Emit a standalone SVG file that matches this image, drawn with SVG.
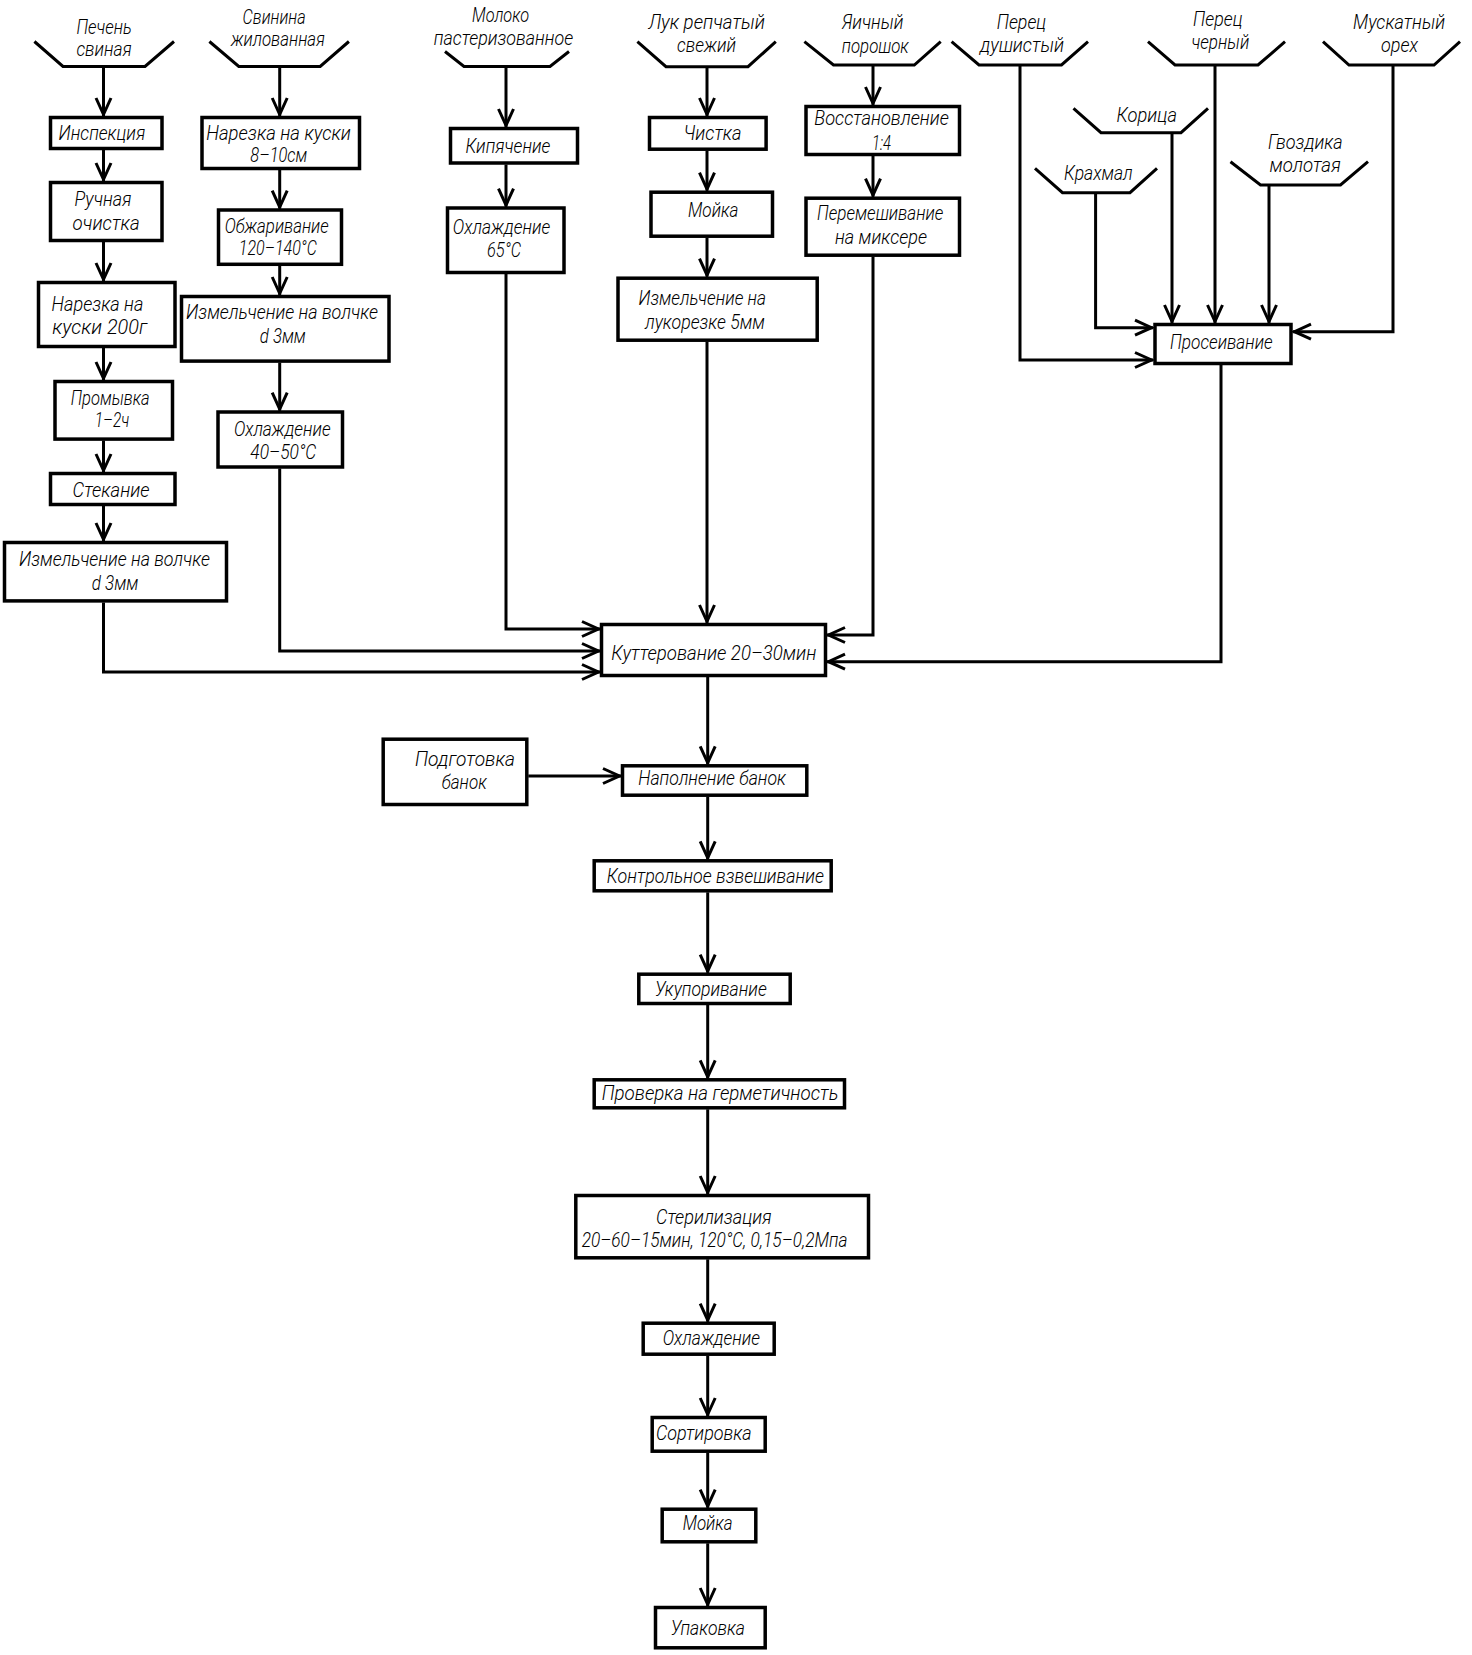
<svg xmlns="http://www.w3.org/2000/svg" width="1472" height="1655" viewBox="0 0 1472 1655">
<defs>
<style>
.b{fill:#fff;stroke:#000;stroke-width:3.5}
.h{fill:none;stroke:#000;stroke-width:3;stroke-linejoin:miter}
.c{fill:none;stroke:#000;stroke-width:3;marker-end:url(#ah)}
.t{font-family:Roboto,"Liberation Sans","DejaVu Sans",sans-serif;font-style:italic;font-weight:300;font-size:21px;fill:#000}
</style>
<marker id="ah" markerUnits="userSpaceOnUse" markerWidth="26" markerHeight="22" viewBox="-22 -11 26 22" refX="0" refY="0" orient="auto" overflow="visible">
<path d="M-18,-7.5 L-1.5,0 L-18,7.5" fill="none" stroke="#000" stroke-width="3"/>
</marker>
</defs>
<rect width="1472" height="1655" fill="#fff"/>
<g id="connectors">
<path class="c" d="M103.5,66.4 V116"/>
<path class="c" d="M103.5,150 V181"/>
<path class="c" d="M103.5,242 V281"/>
<path class="c" d="M103.5,348 V380"/>
<path class="c" d="M103.5,440.6 V472"/>
<path class="c" d="M103.5,506 V541"/>
<path class="c" d="M103.5,602.4 V672 H600"/>
<path class="c" d="M279.7,66.4 V116"/>
<path class="c" d="M279.7,170 V208.6"/>
<path class="c" d="M279.7,265.8 V295"/>
<path class="c" d="M279.7,362.6 V410.7"/>
<path class="c" d="M279.7,468.5 V651 H600"/>
<path class="c" d="M506,66.4 V127"/>
<path class="c" d="M506,164.5 V206.6"/>
<path class="c" d="M506,274 V629 H600"/>
<path class="c" d="M707,66.7 V116"/>
<path class="c" d="M707,150.7 V190.7"/>
<path class="c" d="M707,237.7 V276.7"/>
<path class="c" d="M707,341.7 V623"/>
<path class="c" d="M873,65 V105"/>
<path class="c" d="M873,156 V196.7"/>
<path class="c" d="M873,256.7 V635 H827"/>
<path class="c" d="M1020,65 V360 H1153"/>
<path class="c" d="M1095.6,192.7 V327.7 H1153"/>
<path class="c" d="M1172,132.7 V323"/>
<path class="c" d="M1215,65 V323"/>
<path class="c" d="M1269,185 V323"/>
<path class="c" d="M1393,65 V331.7 H1293"/>
<path class="c" d="M1221,365 V661.7 H827"/>
<path class="c" d="M707.7,677 V764.3"/>
<path class="c" d="M528.3,776 H621"/>
<path class="c" d="M707.7,796.7 V859.3"/>
<path class="c" d="M707.7,892.3 V972.7"/>
<path class="c" d="M707.7,1005 V1078.3"/>
<path class="c" d="M707.7,1109.3 V1194"/>
<path class="c" d="M707.7,1259.3 V1321.7"/>
<path class="c" d="M707.7,1355.7 V1416"/>
<path class="c" d="M707.7,1452.7 V1507.7"/>
<path class="c" d="M707.7,1543.3 V1606"/>
</g>
<g id="src-pechen"><polyline class="h" points="34.4,41.5 63,66.4 145,66.4 174,41.5"/><text class="t" x="76.4" y="33.6" textLength="55.4" lengthAdjust="spacingAndGlyphs">Печень</text><text class="t" x="76.4" y="56" textLength="55.4" lengthAdjust="spacingAndGlyphs">свиная</text></g>
<g id="src-svinina"><polyline class="h" points="209.4,41.5 238.8,66.4 320.2,66.4 348.9,41.5"/><text class="t" x="242.6" y="23.6" textLength="63" lengthAdjust="spacingAndGlyphs">Свинина</text><text class="t" x="231" y="46" textLength="94" lengthAdjust="spacingAndGlyphs">жилованная</text></g>
<g id="src-moloko"><polyline class="h" points="445,51.5 464,66.4 550,66.4 569,51.5"/><text class="t" x="472" y="22" textLength="57" lengthAdjust="spacingAndGlyphs">Молоко</text><text class="t" x="433.7" y="45" textLength="139.5" lengthAdjust="spacingAndGlyphs">пастеризованное</text></g>
<g id="src-luk"><polyline class="h" points="637.4,41.7 666,66.7 748,66.7 775.8,41.7"/><text class="t" x="648.4" y="28.7" textLength="116.5" lengthAdjust="spacingAndGlyphs">Лук репчатый</text><text class="t" x="677" y="52" textLength="59" lengthAdjust="spacingAndGlyphs">свежий</text></g>
<g id="src-yaichny"><polyline class="h" points="804.4,41.7 833.5,65 914.3,65 940.7,41.7"/><text class="t" x="841.8" y="28.7" textLength="61.5" lengthAdjust="spacingAndGlyphs">Яичный</text><text class="t" x="841.8" y="53" textLength="67" lengthAdjust="spacingAndGlyphs">порошок</text></g>
<g id="src-perec-dush"><polyline class="h" points="951.6,41.7 979,65 1061.5,65 1088,41.7"/><text class="t" x="996.7" y="28.7" textLength="49.5" lengthAdjust="spacingAndGlyphs">Перец</text><text class="t" x="980" y="52" textLength="84" lengthAdjust="spacingAndGlyphs">душистый</text></g>
<g id="src-perec-cher"><polyline class="h" points="1148,41.7 1175,65 1258,65 1285,41.7"/><text class="t" x="1193" y="26.3" textLength="49.5" lengthAdjust="spacingAndGlyphs">Перец</text><text class="t" x="1191.5" y="48.7" textLength="57.7" lengthAdjust="spacingAndGlyphs">черный</text></g>
<g id="src-muskat"><polyline class="h" points="1323,41.7 1349,65 1434,65 1460,41.7"/><text class="t" x="1353" y="28.7" textLength="92" lengthAdjust="spacingAndGlyphs">Мускатный</text><text class="t" x="1381" y="52" textLength="37" lengthAdjust="spacingAndGlyphs">орех</text></g>
<g id="src-korica"><polyline class="h" points="1073.5,108.3 1101,132.7 1181,132.7 1208,108.3"/><text class="t" x="1116.5" y="122" textLength="60.4" lengthAdjust="spacingAndGlyphs">Корица</text></g>
<g id="src-krahmal"><polyline class="h" points="1035,168.3 1062.5,192.7 1130,192.7 1157,168.3"/><text class="t" x="1064" y="180.3" textLength="68.7" lengthAdjust="spacingAndGlyphs">Крахмал</text></g>
<g id="src-gvozdika"><polyline class="h" points="1230.5,161.7 1260.5,185 1340.5,185 1368,161.7"/><text class="t" x="1268" y="148.7" textLength="74.7" lengthAdjust="spacingAndGlyphs">Гвоздика</text><text class="t" x="1269.5" y="172" textLength="71.4" lengthAdjust="spacingAndGlyphs">молотая</text></g>
<g id="n-inspekciya"><rect class="b" x="50.5" y="117.5" width="111.5" height="31"/><text class="t" x="58.5" y="140" textLength="86.7" lengthAdjust="spacingAndGlyphs">Инспекция</text></g>
<g id="n-ruchnaya"><rect class="b" x="50.5" y="182.5" width="111.5" height="58"/><text class="t" x="74.5" y="206.3" textLength="57" lengthAdjust="spacingAndGlyphs">Ручная</text><text class="t" x="72.6" y="230.3" textLength="67" lengthAdjust="spacingAndGlyphs">очистка</text></g>
<g id="n-narezka200"><rect class="b" x="38.5" y="282.5" width="136.5" height="64"/><text class="t" x="51.6" y="311" textLength="91.7" lengthAdjust="spacingAndGlyphs">Нарезка на</text><text class="t" x="52.3" y="334.2" textLength="94.8" lengthAdjust="spacingAndGlyphs">куски 200г</text></g>
<g id="n-promyvka"><rect class="b" x="55" y="381.5" width="117.5" height="57.6"/><text class="t" x="70.7" y="405" textLength="79" lengthAdjust="spacingAndGlyphs">Промывка</text><text class="t" x="94.8" y="427.4" textLength="34.4" lengthAdjust="spacingAndGlyphs">1–2ч</text></g>
<g id="n-stekanie"><rect class="b" x="50.5" y="473.5" width="124.5" height="31"/><text class="t" x="72.6" y="496.5" textLength="77" lengthAdjust="spacingAndGlyphs">Стекание</text></g>
<g id="n-izmelch1"><rect class="b" x="4.5" y="542.5" width="222" height="58.4"/><text class="t" x="19" y="566" textLength="191" lengthAdjust="spacingAndGlyphs">Измельчение на волчке</text><text class="t" x="91.7" y="589.5" textLength="46.6" lengthAdjust="spacingAndGlyphs">d 3мм</text></g>
<g id="n-narezka810"><rect class="b" x="202" y="117.5" width="157.5" height="51"/><text class="t" x="206.3" y="140" textLength="144.5" lengthAdjust="spacingAndGlyphs">Нарезка на куски</text><text class="t" x="250.3" y="161.5" textLength="57" lengthAdjust="spacingAndGlyphs">8–10см</text></g>
<g id="n-obzharivanie"><rect class="b" x="218.5" y="210" width="123" height="54.3"/><text class="t" x="224.7" y="233" textLength="104" lengthAdjust="spacingAndGlyphs">Обжаривание</text><text class="t" x="238.8" y="254.5" textLength="78" lengthAdjust="spacingAndGlyphs">120–140°C</text></g>
<g id="n-izmelch2"><rect class="b" x="181.5" y="296.5" width="207.5" height="64.6"/><text class="t" x="186" y="319.3" textLength="192" lengthAdjust="spacingAndGlyphs">Измельчение на волчке</text><text class="t" x="259.8" y="342.5" textLength="46" lengthAdjust="spacingAndGlyphs">d 3мм</text></g>
<g id="n-ohlazhd4050"><rect class="b" x="218" y="412" width="124.5" height="55"/><text class="t" x="233.9" y="436" textLength="96.7" lengthAdjust="spacingAndGlyphs">Охлаждение</text><text class="t" x="250.3" y="459.3" textLength="66" lengthAdjust="spacingAndGlyphs">40–50°C</text></g>
<g id="n-kipyachenie"><rect class="b" x="450.5" y="128.5" width="127" height="34.5"/><text class="t" x="465.4" y="153.2" textLength="85" lengthAdjust="spacingAndGlyphs">Кипячение</text></g>
<g id="n-ohlazhd65"><rect class="b" x="447.5" y="208" width="116.5" height="64.5"/><text class="t" x="452.8" y="234" textLength="97.4" lengthAdjust="spacingAndGlyphs">Охлаждение</text><text class="t" x="487" y="256.8" textLength="34" lengthAdjust="spacingAndGlyphs">65°C</text></g>
<g id="n-chistka"><rect class="b" x="649.5" y="117.5" width="116.6" height="31.7"/><text class="t" x="683.5" y="140.3" textLength="58" lengthAdjust="spacingAndGlyphs">Чистка</text></g>
<g id="n-moyka1"><rect class="b" x="651" y="192.2" width="121.5" height="44"/><text class="t" x="688" y="217" textLength="50.5" lengthAdjust="spacingAndGlyphs">Мойка</text></g>
<g id="n-lukorezka"><rect class="b" x="618" y="278.2" width="199.2" height="62"/><text class="t" x="638.5" y="305.3" textLength="127.5" lengthAdjust="spacingAndGlyphs">Измельчение на</text><text class="t" x="645" y="328.7" textLength="119.8" lengthAdjust="spacingAndGlyphs">лукорезке 5мм</text></g>
<g id="n-vosstanovlenie"><rect class="b" x="806" y="106.5" width="153.5" height="48"/><text class="t" x="814.3" y="125.3" textLength="134.6" lengthAdjust="spacingAndGlyphs">Восстановление</text><text class="t" x="872" y="149.7" textLength="19" lengthAdjust="spacingAndGlyphs">1:4</text></g>
<g id="n-peremeshivanie"><rect class="b" x="806" y="198.2" width="153.5" height="57"/><text class="t" x="817" y="220.3" textLength="126.4" lengthAdjust="spacingAndGlyphs">Перемешивание</text><text class="t" x="835" y="244.3" textLength="92" lengthAdjust="spacingAndGlyphs">на миксере</text></g>
<g id="n-proseivanie"><rect class="b" x="1155" y="324.5" width="136" height="39"/><text class="t" x="1170" y="348.7" textLength="102.7" lengthAdjust="spacingAndGlyphs">Просеивание</text></g>
<g id="n-kutterovanie"><rect class="b" x="601.5" y="624.5" width="224" height="51"/><text class="t" x="611.3" y="660.3" textLength="205" lengthAdjust="spacingAndGlyphs">Куттерование 20–30мин</text></g>
<g id="n-podgotovka"><rect class="b" x="383.2" y="739.2" width="143.6" height="65.3"/><text class="t" x="415" y="766.3" textLength="100" lengthAdjust="spacingAndGlyphs">Подготовка</text><text class="t" x="441.7" y="788.7" textLength="45" lengthAdjust="spacingAndGlyphs">банок</text></g>
<g id="n-napolnenie"><rect class="b" x="622.5" y="765.8" width="184.3" height="29.4"/><text class="t" x="638.3" y="785.3" textLength="147.7" lengthAdjust="spacingAndGlyphs">Наполнение банок</text></g>
<g id="n-vzveshivanie"><rect class="b" x="594.2" y="860.8" width="237" height="30"/><text class="t" x="606.7" y="883" textLength="217.3" lengthAdjust="spacingAndGlyphs">Контрольное взвешивание</text></g>
<g id="n-ukuporivanie"><rect class="b" x="638.8" y="974.2" width="151.4" height="29.3"/><text class="t" x="655" y="996.3" textLength="111.7" lengthAdjust="spacingAndGlyphs">Укупоривание</text></g>
<g id="n-proverka"><rect class="b" x="594.2" y="1079.8" width="250.3" height="28"/><text class="t" x="601.7" y="1100.3" textLength="236.7" lengthAdjust="spacingAndGlyphs">Проверка на герметичность</text></g>
<g id="n-sterilizaciya"><rect class="b" x="575.8" y="1195.5" width="292.7" height="62.3"/><text class="t" x="656" y="1224.3" textLength="115.7" lengthAdjust="spacingAndGlyphs">Стерилизация</text><text class="t" x="581.7" y="1247" textLength="265.7" lengthAdjust="spacingAndGlyphs">20–60–15мин, 120°C, 0,15–0,2Мпа</text></g>
<g id="n-ohlazhdenie"><rect class="b" x="643.2" y="1323.2" width="131" height="31"/><text class="t" x="662.7" y="1345.3" textLength="97.3" lengthAdjust="spacingAndGlyphs">Охлаждение</text></g>
<g id="n-sortirovka"><rect class="b" x="652.2" y="1417.5" width="113" height="33.7"/><text class="t" x="656" y="1440.3" textLength="95.7" lengthAdjust="spacingAndGlyphs">Сортировка</text></g>
<g id="n-moyka2"><rect class="b" x="662.2" y="1509.2" width="93.6" height="32.6"/><text class="t" x="682.7" y="1530.3" textLength="50" lengthAdjust="spacingAndGlyphs">Мойка</text></g>
<g id="n-upakovka"><rect class="b" x="655.5" y="1607.5" width="109.7" height="40.3"/><text class="t" x="670.7" y="1635" textLength="74.3" lengthAdjust="spacingAndGlyphs">Упаковка</text></g>
</svg>
